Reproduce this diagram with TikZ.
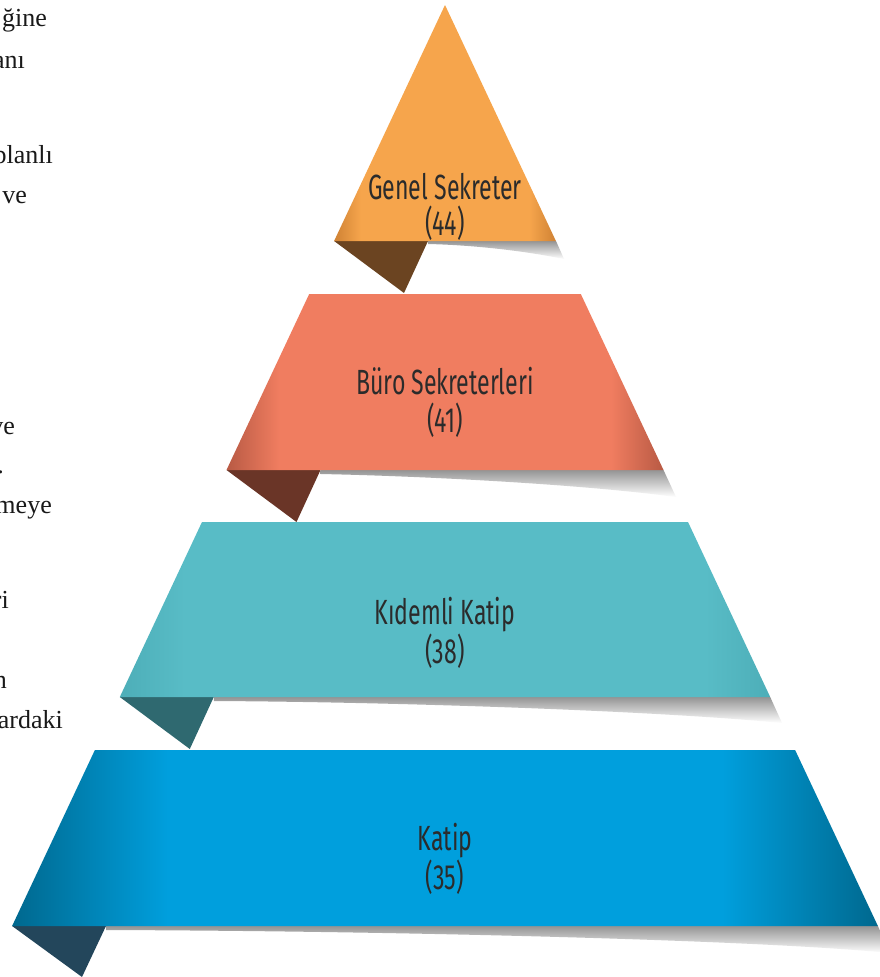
\documentclass[tikz,border=0pt]{standalone}
\usepackage{fontspec}
\setmainfont{Liberation Serif}
\newfontfamily\cond[FakeStretch=0.66]{Fira Sans}
\definecolor{txt}{HTML}{2B2B2B}
\definecolor{aM}{HTML}{F6A54C}
\definecolor{aD}{HTML}{CF8234}
\definecolor{bM}{HTML}{F07D60}
\definecolor{bD}{HTML}{B85A44}
\definecolor{cM}{HTML}{58BCC6}
\definecolor{cD}{HTML}{4DAEB8}
\definecolor{dM}{HTML}{009FDD}
\definecolor{dD}{HTML}{00688E}
\definecolor{fA}{HTML}{6B4421}
\definecolor{fB}{HTML}{6A3527}
\definecolor{fC}{HTML}{2F6970}
\definecolor{fD}{HTML}{23465B}
\pgfdeclarehorizontalshading{shA}{100bp}{color(0bp)=(aD); color(25bp)=(aD); color(31bp)=(aM); color(69bp)=(aM); color(75bp)=(aD); color(100bp)=(aD)}
\pgfdeclarehorizontalshading{shB}{100bp}{color(0bp)=(bD); color(25bp)=(bD); color(31bp)=(bM); color(69bp)=(bM); color(75bp)=(bD); color(100bp)=(bD)}
\pgfdeclarehorizontalshading{shC}{100bp}{color(0bp)=(cD); color(25bp)=(cD); color(30bp)=(cM); color(70bp)=(cM); color(75bp)=(cD); color(100bp)=(cD)}
\pgfdeclarehorizontalshading{shD}{100bp}{color(0bp)=(dD); color(25bp)=(dD); color(34bp)=(dM); color(66bp)=(dM); color(75bp)=(dD); color(100bp)=(dD)}
\tikzset{
  lab/.style={font=\cond\fontsize{35}{35}\selectfont, text=txt, anchor=base, inner sep=0pt},
  side/.style={font=\fontsize{26}{26}\selectfont, text=black!90, anchor=base east, inner sep=0pt},
  shadowfill/.style={top color=black!42, bottom color=white},
}
\begin{document}
\begin{tikzpicture}[x=1pt,y=-1pt]
\useasboundingbox (0,0) rectangle (879,977);
\fill[white] (0,0) rectangle (879,977);

% left text fragments
\node[side] (s1) at (47,27) {ğine};
\node[side] (s2) at (25,68) {anı};
\node[side] (s3) at (53,163) {planlı};
\node[side] (s4) at (27,203) {ve};
\node[side] (s5) at (15,434) {ve};
\node[side] (s6) at (4,473) {.};
\node[side] (s7) at (52,513) {meye};
\node[side] (s8) at (9,608) {ri};
\node[side] (s9) at (7,688) {n};
\node[side] (s10) at (63,728) {ardaki};

% tier 1
\shade[shadowfill] (428,241) -- (556,241) -- (564,259) .. controls (520,250) and (470,245) .. (428,244) -- cycle;
\fill[fA] (334.1,241) -- (428,241) -- (404,293) -- cycle;
\shade[shading=shA] (445,5) -- (555.9,241) -- (334.1,241) -- cycle;
\node[lab] (t1a) at (445,199) {Genel Sekreter};
\node[lab] (t1b) at (445,235) {(44)};

% tier 2
\shade[shadowfill] (320.5,470) -- (663.5,470) -- (676,497) .. controls (580,484) and (420,476) .. (320.5,474) -- cycle;
\fill[fB] (226.5,470) -- (320.5,470) -- (296.5,522) -- cycle;
\shade[shading=shB] (309.2,294) -- (580.8,294) -- (663.5,470) -- (226.5,470) -- cycle;
\node[lab] (t2a) at (445,394) {Büro Sekreterleri};
\node[lab] (t2b) at (445,432) {(41)};

% tier 3
\shade[shadowfill] (213.8,697) -- (770.2,697) -- (782,723) .. controls (660,711) and (400,702) .. (213.8,701) -- cycle;
\fill[fC] (119.8,697) -- (213.8,697) -- (189.8,749) -- cycle;
\shade[shading=shC] (202,522) -- (688,522) -- (770.2,697) -- (119.8,697) -- cycle;
\node[lab] (t3a) at (445,624) {Kıdemli Katip};
\node[lab] (t3b) at (445,663) {(38)};

% tier 4
\shade[shadowfill] (106,926) -- (877.9,926) -- (890,953) .. controls (760,940) and (400,931) .. (106,930) -- cycle;
\fill[fD] (12.1,926) -- (106,926) -- (82,977) -- cycle;
\shade[shading=shD] (94.9,750) -- (795.1,750) -- (877.9,926) -- (12.1,926) -- cycle;
\node[lab] (t4a) at (445,850) {Katip};
\node[lab] (t4b) at (445,889) {(35)};
\end{tikzpicture}
\end{document}
